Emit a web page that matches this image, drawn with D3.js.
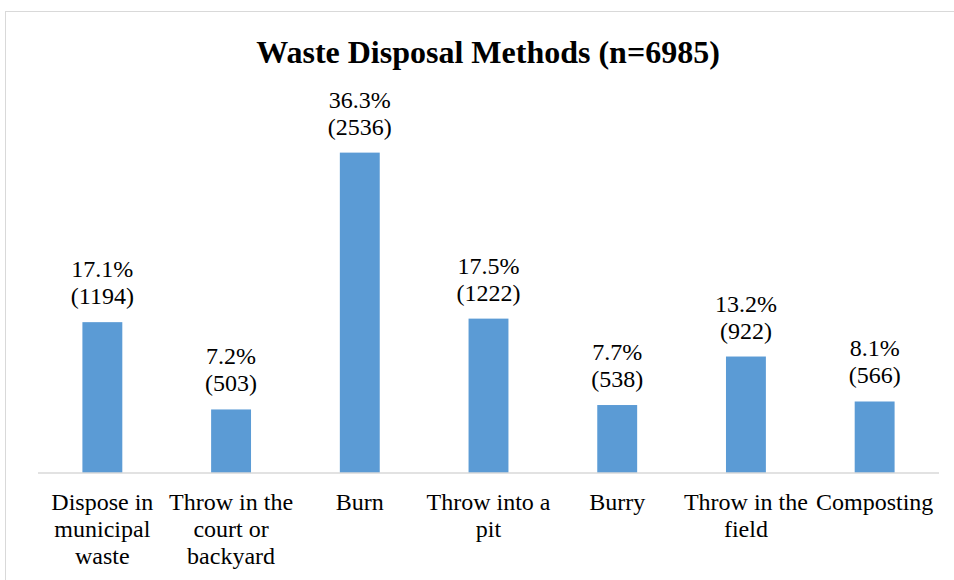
<!DOCTYPE html>
<html>
<title>Waste Disposal Methods</title>
<meta charset="UTF-8">
<script type="text/javascript" src="https://d3js.org/d3.v7.min.js"></script>
<style type="text/css">
	body {
		margin: 0;
		background: white;
	}
	#viz text {
		font-family: "Liberation Serif", "Times New Roman", serif;
		fill: #000;
	}
</style>
<body>
	<svg id="viz"></svg>
</body>
<script type="text/javascript">

	var categories = ["Dispose in municipal waste", "Throw in the court or backyard", "Burn",
		"Throw into a pit", "Burry", "Throw in the field", "Composting"];
	var tickLines = [
		["Dispose in", "municipal", "waste"],
		["Throw in the", "court or", "backyard"],
		["Burn"],
		["Throw into a", "pit"],
		["Burry"],
		["Throw in the", "field"],
		["Composting"]
	];
	var counts = [1194, 503, 2536, 1222, 538, 922, 566];
	var percents = ["17.1%", "7.2%", "36.3%", "17.5%", "7.7%", "13.2%", "8.1%"];

	var width = 954, height = 580;
	var left = 38, right = 939, baseY = 473, topY = 94;

	var svg = d3.select("#viz")
		.attr("width", width)
		.attr("height", height)
		.attr("font-family", "'Liberation Serif', 'Times New Roman', serif");

	// chart frame
	svg.append("rect")
		.attr("x", 5.5).attr("y", 11.5)
		.attr("width", 960).attr("height", 600)
		.attr("fill", "white")
		.attr("stroke", "#d9d9d9");

	svg.append("text")
		.attr("x", 488).attr("y", 63)
		.attr("text-anchor", "middle")
		.style("font-size", "32px")
		.style("font-weight", "bold")
		.text("Waste Disposal Methods (n=6985)");

	var xScale = d3.scaleBand()
		.domain(categories)
		.range([left, right])
		.paddingInner(0.69)
		.paddingOuter(0.345);

	var yScale = d3.scaleLinear()
		.domain([0, 3000])
		.range([baseY, topY]);

	var data = categories.map(function(c, i) {
		return {name: c, count: counts[i], pct: percents[i], lines: tickLines[i]};
	});

	svg.selectAll("rect.bar")
		.data(data)
		.enter().append("rect")
		.attr("class", "bar")
		.attr("x", function(d) { return xScale(d.name); })
		.attr("y", function(d) { return yScale(d.count); })
		.attr("width", xScale.bandwidth())
		.attr("height", function(d) { return baseY - yScale(d.count); })
		.attr("fill", "#5b9bd5");

	// axis line
	svg.append("line")
		.attr("x1", left).attr("x2", right)
		.attr("y1", baseY).attr("y2", baseY)
		.attr("stroke", "#d9d9d9")
		.attr("stroke-width", 1.5);

	var labels = svg.selectAll("g.lbl")
		.data(data)
		.enter().append("g")
		.attr("class", "lbl")
		.attr("transform", function(d) {
			return "translate(" + (xScale(d.name) + xScale.bandwidth() / 2) + "," + yScale(d.count) + ")";
		});

	labels.append("text")
		.attr("y", -45)
		.attr("text-anchor", "middle")
		.style("font-size", "24px")
		.text(function(d) { return d.pct; });

	labels.append("text")
		.attr("y", -18)
		.attr("text-anchor", "middle")
		.style("font-size", "24px")
		.text(function(d) { return "(" + d.count + ")"; });

	var ticks = svg.selectAll("text.tick")
		.data(data)
		.enter().append("text")
		.attr("class", "tick")
		.attr("text-anchor", "middle")
		.attr("x", function(d) { return xScale(d.name) + xScale.bandwidth() / 2; })
		.attr("y", 510)
		.style("font-size", "24px");

	ticks.selectAll("tspan")
		.data(function(d) { return d.lines; })
		.enter().append("tspan")
		.attr("x", function() { return d3.select(this.parentNode).attr("x"); })
		.attr("dy", function(d, i) { return i === 0 ? 0 : 27; })
		.text(function(d) { return d; });

</script>
</html>
